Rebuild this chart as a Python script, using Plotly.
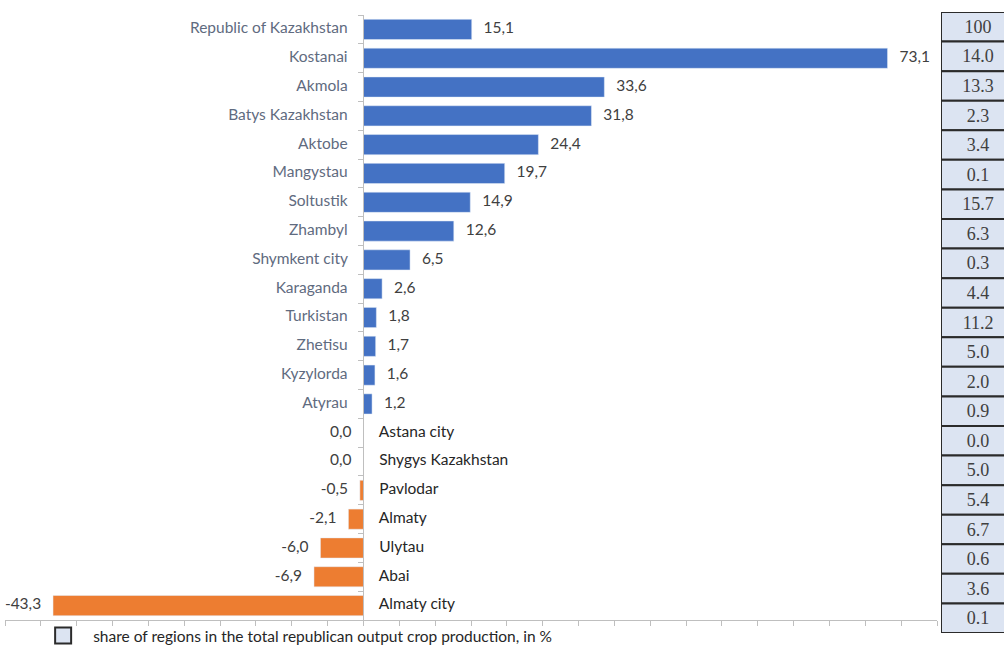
import plotly.graph_objects as go

categories = ["Republic of Kazakhstan", "Kostanai", "Akmola", "Batys Kazakhstan", "Aktobe",
              "Mangystau", "Soltustik", "Zhambyl", "Shymkent city", "Karaganda", "Turkistan",
              "Zhetisu", "Kyzylorda", "Atyrau", "Astana city", "Shygys Kazakhstan", "Pavlodar",
              "Almaty", "Ulytau", "Abai", "Almaty city"]
values = [15.1, 73.1, 33.6, 31.8, 24.4, 19.7, 14.9, 12.6, 6.5, 2.6, 1.8, 1.7, 1.6, 1.2,
          0.0, 0.0, -0.5, -2.1, -6.0, -6.9, -43.3]
shares = ["100", "14.0", "13.3", "2.3", "3.4", "0.1", "15.7", "6.3", "0.3", "4.4", "11.2",
          "5.0", "2.0", "0.9", "0.0", "5.0", "5.4", "6.7", "0.6", "3.6", "0.1"]
legend_label = "share of regions in the total republican output crop production, in %"

BLUE = "#4472C4"
ORANGE = "#ED7D31"
BOX_FILL = "#DCE4F2"
BOX_LINE = "#2B2B2B"
XMIN, XMAX = -50, 80
FONT = "Lato"

pos = [i for i, v in enumerate(values) if v > 0]
neg = [i for i, v in enumerate(values) if v <= 0]
fmt = lambda v: f"{v:.1f}".replace(".", ",")
n = len(categories)

fig = go.Figure()

fig.add_trace(go.Bar(
    y=categories, x=values, orientation="h", width=0.7,
    marker=dict(color=[BLUE if v > 0 else ORANGE for v in values]),
    showlegend=False, hoverinfo="x+y",
))

# value labels
fig.add_trace(go.Scatter(
    x=[values[i] for i in pos], y=[categories[i] for i in pos], mode="text",
    text=["   " + fmt(values[i]) for i in pos], textposition="middle right",
    textfont=dict(family=FONT, size=15.5, color="#404040"), showlegend=False, hoverinfo="skip"))
fig.add_trace(go.Scatter(
    x=[values[i] for i in neg], y=[categories[i] for i in neg], mode="text",
    text=[fmt(values[i]) + "   " for i in neg], textposition="middle left",
    textfont=dict(family=FONT, size=15.5, color="#404040"), showlegend=False, hoverinfo="skip"))

# category names beside the zero axis
fig.add_trace(go.Scatter(
    x=[0] * len(pos), y=[categories[i] for i in pos], mode="text",
    text=[categories[i] + "    " for i in pos], textposition="middle left",
    textfont=dict(family=FONT, size=15.5, color="#5F6B80"), showlegend=False, hoverinfo="skip"))
fig.add_trace(go.Scatter(
    x=[0] * len(neg), y=[categories[i] for i in neg], mode="text",
    text=["    " + categories[i] for i in neg], textposition="middle right",
    textfont=dict(family=FONT, size=15.5, color="#262626"), showlegend=False, hoverinfo="skip"))

# share column
fig.add_trace(go.Bar(
    y=categories, x=[1] * n, orientation="h", width=1,
    xaxis="x2", yaxis="y2", name=legend_label,
    marker=dict(color=BOX_FILL, line=dict(color=BOX_LINE, width=2)),
    text=shares, textposition="inside", insidetextanchor="middle", textangle=0,
    textfont=dict(family="Liberation Serif", size=18, color="#404040"),
    showlegend=False, hoverinfo="y+text",
))

# legend entry for the share column
fig.add_trace(go.Scatter(
    x=[None], y=[None], mode="markers", name=legend_label,
    marker=dict(symbol="square", size=16, color=BOX_FILL, line=dict(color=BOX_LINE, width=2)),
    showlegend=True,
))

xdom = [5 / 1004, 937 / 1004]
zero_pos = xdom[0] + (xdom[1] - xdom[0]) * (0 - XMIN) / (XMAX - XMIN)

fig.update_layout(
    width=1004, height=646,
    margin=dict(l=0, r=0, t=0, b=0, autoexpand=False),
    paper_bgcolor="white", plot_bgcolor="white",
    font=dict(family=FONT, size=13, color="#262626"),
    xaxis=dict(domain=xdom, range=[XMIN, XMAX], dtick=5, tick0=0, showticklabels=False,
               ticks="outside", ticklen=5, tickcolor="#BFBFBF", showline=True,
               linecolor="#BFBFBF", showgrid=False, zeroline=False, anchor="y"),
    yaxis=dict(domain=[1 - 620 / 646, 1 - 15 / 646], range=[n - 0.5, -0.5],
               categoryorder="array", categoryarray=categories,
               anchor="free", position=zero_pos, showticklabels=False,
               ticks="outside", tickson="boundaries", ticklen=5, tickcolor="#BFBFBF",
               showline=True, linecolor="#BFBFBF", showgrid=False, zeroline=False),
    xaxis2=dict(domain=[941 / 1004, 1], range=[0, 0.85], visible=False,
                anchor="y2"),
    yaxis2=dict(domain=[1 - 633 / 646, 1 - 12 / 646], range=[n - 0.5, -0.5],
                categoryorder="array", categoryarray=categories, visible=False,
                anchor="x2"),
    legend=dict(orientation="h", x=0.033, y=1 - 636 / 646, xanchor="left", yanchor="middle",
                itemwidth=50,
                font=dict(family=FONT, size=15.5, color="#262626"),
                bgcolor="rgba(0,0,0,0)"),
    showlegend=True,
)

fig.write_html("out.html")
